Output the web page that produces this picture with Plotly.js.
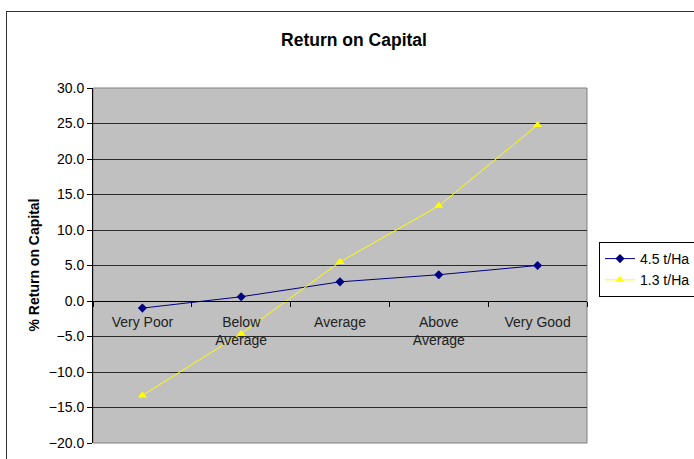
<!DOCTYPE html>
<html>
<head>
<meta charset="utf-8">
<script src="https://cdn.plot.ly/plotly-3.0.1.min.js"></script>
<style>
  html, body { margin: 0; padding: 0; background: #fff; overflow: hidden; }
  #wrap { position: relative; width: 694px; height: 459px; }
  #frame { position: absolute; left: 6px; top: 11px; width: 700px; height: 460px; border: 1.5px solid #333; pointer-events: none; }
  #chart { position: absolute; left: 0; top: 0; width: 694px; height: 459px; }
</style>
</head>
<body>
<div id="wrap">
  <div id="chart"></div>
  <div id="frame"></div>
</div>
<script>
const categories = ["Very Poor", "Below<br>Average", "Average", "Above<br>Average", "Very Good"];
const series45Name = "4.5 t/Ha";
const series45 = [-1.0, 0.6, 2.7, 3.7, 5.0];
const series13Name = "1.3 t/Ha";
const series13 = [-13.3, -4.6, 5.5, 13.4, 24.8];
const yTicks = [-20, -15, -10, -5, 0, 5, 10, 15, 20, 25, 30];

const font = "Arial, 'Liberation Sans', sans-serif";

const traces = [
  {
    x: categories, y: series45, name: series45Name, type: "scatter", mode: "lines+markers",
    line: { color: "#000080", width: 1 },
    marker: { symbol: "diamond", size: 7, color: "#000080" }
  },
  {
    x: categories, y: series13, name: series13Name, type: "scatter", mode: "lines+markers",
    line: { color: "#FFFF00", width: 1 },
    marker: { symbol: "triangle-up", size: 8, color: "#FFFF00" }
  }
];

const layout = {
  width: 694, height: 459,
  margin: { l: 93, r: 107, t: 88, b: 16, autoexpand: false },
  paper_bgcolor: "rgba(0,0,0,0)",
  plot_bgcolor: "#C0C0C0",
  font: { family: font, size: 14, color: "#000" },
  showlegend: true,
  title: {
    text: "<b>Return on Capital</b>",
    font: { family: font, size: 17.5, color: "#000" },
    xref: "container", x: 354 / 694, xanchor: "center",
    yref: "container", y: 1 - 40 / 459, yanchor: "middle"
  },
  xaxis: {
    type: "category",
    range: [-0.5, 4.5],
    anchor: "free", position: 0.4,
    showline: true, linecolor: "#000", linewidth: 1,
    ticks: "outside", tickson: "boundaries", ticklen: 5, tickcolor: "#000",
    ticklabelstandoff: 8,
    showgrid: false, zeroline: false,
    tickfont: { family: font, size: 14, color: "#222" },
    fixedrange: true
  },
  yaxis: {
    range: [-20, 30],
    tickvals: yTicks,
    tickformat: ".1f",
    ticks: "outside", ticklen: 5, tickcolor: "#000",
    showline: true, linecolor: "#000", linewidth: 1,
    showgrid: true, gridcolor: "#2a2a2a", gridwidth: 1,
    zeroline: false,
    tickfont: { family: font, size: 14, color: "#000" },
    fixedrange: true
  },
  legend: {
    xref: "container", x: 599 / 694, xanchor: "left",
    yref: "container", y: 1 - 242 / 459, yanchor: "top",
    bgcolor: "#fff", bordercolor: "#000", borderwidth: 1,
    font: { family: font, size: 14, color: "#000" },
    tracegroupgap: 2
  },
  shapes: [
    { type: "rect", xref: "paper", yref: "paper", x0: 0, x1: 1, y0: 0, y1: 1,
      line: { color: "#808080", width: 1 }, layer: "below" }
  ],
  annotations: [
    { text: "<b>% Return on Capital</b>", xref: "paper", yref: "paper",
      x: (33 - 93) / 494, y: 0.5, textangle: -90, showarrow: false,
      xanchor: "center", yanchor: "middle",
      font: { family: font, size: 14, color: "#000" } }
  ]
};

Plotly.newPlot("chart", traces, layout, { displayModeBar: false, staticPlot: true });
</script>
</body>
</html>
